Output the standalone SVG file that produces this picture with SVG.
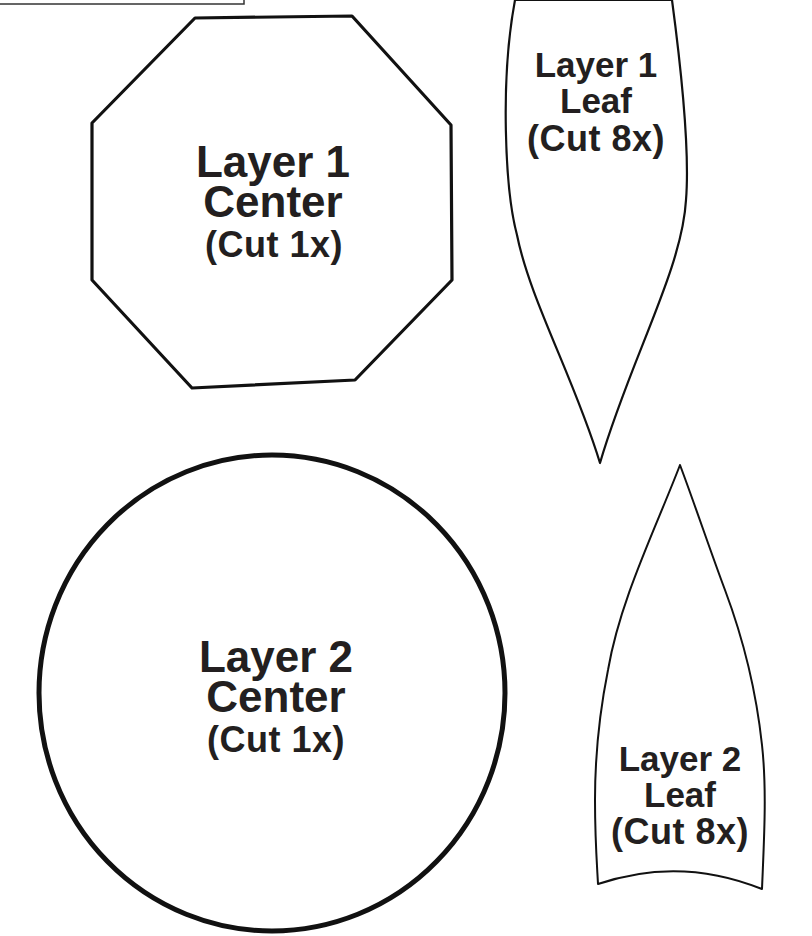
<svg xmlns="http://www.w3.org/2000/svg" width="812" height="936" viewBox="0 0 812 936">
<style>
.shape{fill:#fff;stroke:#111;stroke-linejoin:round}
.t{font-family:"Liberation Sans",Arial,sans-serif;font-weight:bold;fill:#231f20;text-anchor:middle}
.big{font-size:44px}
.mid{font-size:35px}
.sm{font-size:36px;letter-spacing:0.5px}
</style>
<rect width="812" height="936" fill="#fff"/>
<g id="header-box">
<rect x="-3" y="-3" width="247" height="7" fill="#fff" stroke="#333" stroke-width="1.5"/>
</g>
<g id="layer1-center">
<polygon class="shape" stroke-width="3.2" points="195,18 352,16 451,125 452,280 355,380 192,388 92,280 92,123"/>
<text class="t big" x="273" y="177">Layer 1</text>
<text class="t big" x="273" y="217">Center</text>
<text class="t sm" x="274" y="257">(Cut 1x)</text>
</g>
<g id="layer1-leaf">
<path class="shape" stroke-width="2.2" d="M515,0 L672,0 C680,60 690,150 686,200 C682,270 630,360 600,463 C575,380 530,300 517,235 C505,190 500,80 515,0 Z"/>
<text class="t mid" x="596" y="77">Layer 1</text>
<text class="t mid" x="596" y="113">Leaf</text>
<text class="t sm" x="596" y="151">(Cut 8x)</text>
</g>
<g id="layer2-center">
<ellipse class="shape" stroke-width="5" cx="272" cy="693" rx="233" ry="238"/>
<text class="t big" x="276" y="672">Layer 2</text>
<text class="t big" x="276" y="712">Center</text>
<text class="t sm" x="276" y="752">(Cut 1x)</text>
</g>
<g id="layer2-leaf">
<path class="shape" stroke-width="2" d="M680,465 C655,530 620,600 608,670 C598,720 595,760 595,800 C595,840 597,865 598,884 Q680,856 762,889 C764,840 767,790 762,745 C755,680 740,630 725,590 C710,550 695,505 680,465 Z"/>
<text class="t mid" x="680" y="771">Layer 2</text>
<text class="t mid" x="680" y="807">Leaf</text>
<text class="t sm" x="680" y="844">(Cut 8x)</text>
</g>
<g id="connectors"></g>
</svg>
